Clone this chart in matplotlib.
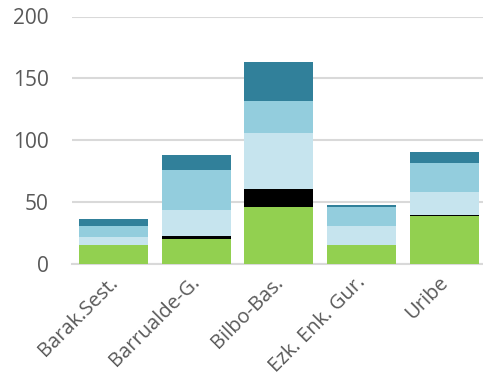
import matplotlib
matplotlib.use("Agg")
import matplotlib.pyplot as plt
import matplotlib.transforms as mtransforms
import numpy as np

categories = ["Barak.Sest.", "Barrualde-G.", "Bilbo-Bas.", "Ezk. Enk. Gur.", "Uribe"]
green = [15, 20, 46, 15, 38.5]
black = [0, 3, 15, 0, 1]
light = [7, 21, 45, 16, 19]
medium = [9, 32, 26, 15, 23]
dark = [5, 12, 31, 2, 9]

series = [green, black, light, medium, dark]
colors = ["#92D050", "#000000", "#C6E4EE", "#93CDDD", "#31809A"]

plt.rcParams['font.family'] = ['Open Sans', 'DejaVu Sans']
fig = plt.figure(figsize=(4.83, 3.85), dpi=100)
ax = fig.add_axes([72.4/483, 1-264/385, (485.4-72.4)/483, (264-16.5)/385])

x = np.arange(len(categories))
bottom = np.zeros(len(categories))
for vals, c in zip(series, colors):
    ax.bar(x, vals, bottom=bottom, width=0.835, color=c, edgecolor='none', zorder=3)
    bottom += np.array(vals)

ax.set_xlim(-0.5, 4.5)
ax.set_ylim(0, 200)
ax.set_yticks([0, 50, 100, 150, 200])
ax.yaxis.grid(True, color='#D9D9D9', linewidth=1.5, zorder=0)
ax.set_axisbelow(True)
for s in ['top', 'right', 'left']:
    ax.spines[s].set_visible(False)
ax.spines['bottom'].set_color('#D9D9D9')
ax.spines['bottom'].set_linewidth(1.5)
ax.tick_params(axis='both', length=0, colors='#595959')
ax.tick_params(axis='y', pad=17, labelsize=15)
ax.set_xticks(x)
ax.set_xticklabels(categories, rotation=45, ha='right', rotation_mode='anchor', fontsize=14.5)
ax.tick_params(axis='x', pad=6)
offset = mtransforms.ScaledTranslation(-6/100, 0, fig.dpi_scale_trans)
for lbl in ax.get_xticklabels():
    lbl.set_transform(lbl.get_transform() + offset)

fig.savefig("out.png", dpi=100)
